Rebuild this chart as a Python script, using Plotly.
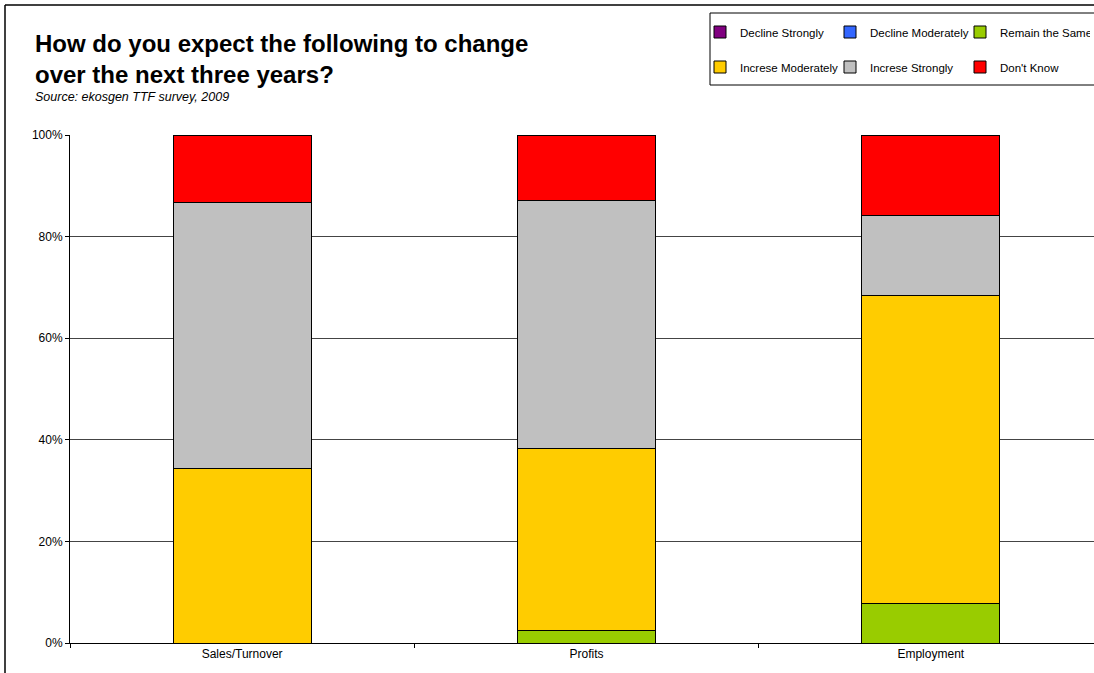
import plotly.graph_objects as go

categories = ["Sales/Turnover", "Profits", "Employment"]
decline_strongly = [0.0, 0.0, 0.0]
decline_moderately = [0.0, 0.0, 0.0]
remain_same = [0.0, 2.4, 7.7]
increase_moderately = [34.3, 35.8, 60.7]
increase_strongly = [52.4, 48.9, 15.7]
dont_know = [13.3, 12.9, 15.9]

series = [
    ("Decline Strongly", decline_strongly, "#800080", "legend"),
    ("Decline Moderately", decline_moderately, "#3366FF", "legend"),
    ("Remain the Same", remain_same, "#99CC00", "legend"),
    ("Increse Moderately", increase_moderately, "#FFCC00", "legend2"),
    ("Increse Strongly", increase_strongly, "#C0C0C0", "legend2"),
    ("Don't Know", dont_know, "#FF0000", "legend2"),
]

W, H = 1094, 673
L, R, T, B = 70, 0, 135, 30
pw, ph = W - L - R, H - T - B


def px(x):
    return (x - L) / pw


def py(y):
    return (H - B - y) / ph


fig = go.Figure()
for name, vals, color, lg in series:
    fig.add_trace(go.Bar(
        x=categories, y=vals, name=name, legend=lg,
        marker=dict(color=color, line=dict(color="#000000", width=1)),
        width=0.4,
    ))

font = "Liberation Sans, Arial, sans-serif"
legend_common = dict(orientation="h", xanchor="left", yanchor="middle",
                     bgcolor="rgba(0,0,0,0)", font=dict(size=11.5), entrywidth=85,
                     itemclick=False, traceorder="normal", itemwidth=30)
fig.update_layout(
    width=W, height=H,
    margin=dict(l=L, r=R, t=T, b=B, autoexpand=False),
    barmode="stack",
    paper_bgcolor="white", plot_bgcolor="white",
    font=dict(family=font, size=12, color="#000"),
    xaxis=dict(
        range=[-0.5, 2.474], showline=True, linecolor="#000", linewidth=1,
        ticks="outside", tickson="boundaries", ticklen=4, tickcolor="#000",
        showgrid=False, tickfont=dict(size=12), fixedrange=True,
    ),
    yaxis=dict(
        range=[0, 100], tickvals=[0, 20, 40, 60, 80, 100],
        ticktext=["0%", "20%", "40%", "60%", "80%", "100%"],
        showline=True, linecolor="#000", linewidth=1,
        ticks="outside", ticklen=4, tickcolor="#000",
        showgrid=True, gridcolor="#444", gridwidth=1,
        zeroline=False, tickfont=dict(size=12),
    ),
    legend=dict(x=px(700), y=py(32), **legend_common),
    legend2=dict(x=px(700), y=py(67), **legend_common),
    showlegend=True,
)

fig.add_annotation(
    text="<b>How do you expect the following to change<br>over the next three years?</b>",
    xref="paper", yref="paper", x=px(33), y=py(28), xanchor="left", yanchor="top",
    align="left", showarrow=False, font=dict(size=24, family=font, color="#000"),
)
fig.add_annotation(
    text="<i>Source: ekosgen TTF survey, 2009</i>",
    xref="paper", yref="paper", x=px(33), y=py(97), xanchor="left", yanchor="middle",
    align="left", showarrow=False, font=dict(size=12.5, family=font, color="#000"),
)

# outer chart border (left and top edges visible)
fig.add_shape(type="line", xref="paper", yref="paper", x0=px(5), x1=px(5), y0=py(5), y1=py(H),
              line=dict(color="#000", width=1.5))
fig.add_shape(type="line", xref="paper", yref="paper", x0=px(5), x1=px(W), y0=py(5), y1=py(5),
              line=dict(color="#000", width=1.5))
# legend box
fig.add_shape(type="rect", xref="paper", yref="paper", x0=px(710), x1=px(W + 10), y0=py(13), y1=py(85),
              line=dict(color="#000", width=1))

fig.write_html("out.html")
